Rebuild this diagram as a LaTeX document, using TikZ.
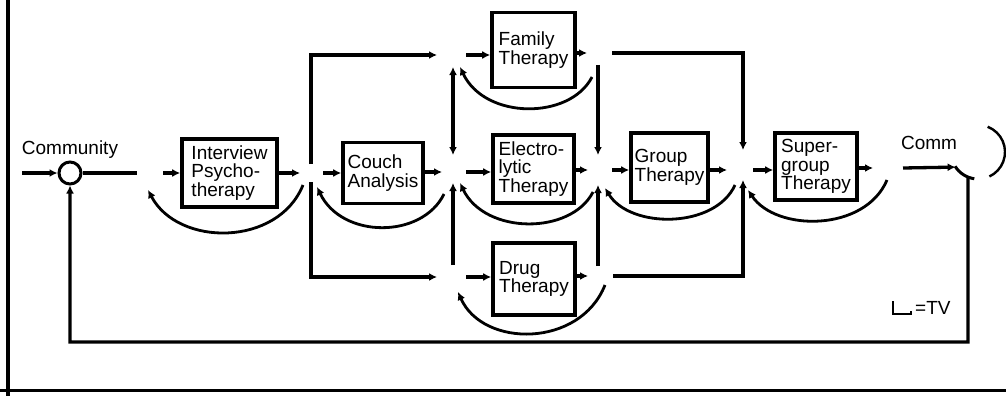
\documentclass[tikz,border=0pt]{standalone}
\usepackage{fontspec}
\setmainfont{Liberation Sans}
\usetikzlibrary{arrows.meta}

\begin{document}
\begin{tikzpicture}[x=1pt,y=1pt]
\tikzstyle{every node}+=[inner sep=0pt]
\tikzstyle{box}=[draw, line width=3.6pt, align=left, inner sep=3pt, font=\fontsize{19}{18.5}\selectfont]
\tikzstyle{lbl}=[font=\fontsize{19}{18.5}\selectfont]
\tikzstyle{wire}=[line width=3.3pt]
\tikzstyle{tip}=[-{Latex[length=8pt,width=8pt]}]
\tikzstyle{fb}=[line width=2.8pt, -{Latex[length=8pt,width=8pt]}]
\useasboundingbox (0,0) rectangle (1006,-396);
% edges of the sheet
\draw [line width=4pt] (8,0) -- (8,-396);
\draw [line width=3pt] (0,-390) -- (1006,-390);
% summing points
\node [draw, circle, line width=3pt, minimum size=22pt] (cin) at (70,-173) {};
\node [lbl] (lblin) at (70,-150) {Community};
\node [circle, minimum size=54pt, outer sep=0pt] (cout) at (978,-152) {};
\node [lbl] (lblout) at (929,-143) {Comm};
\coordinate (src) at (22,-173);
\coordinate (fbk) at (968,-342);
% therapy boxes
\node [box, minimum width=95pt, minimum height=68pt] (interview) at (229.5,-173) {Interview\\Psycho-\\therapy};
\node [box, minimum width=80pt, minimum height=61pt] (couch) at (383,-173) {Couch\\Analysis};
\node [box, minimum width=83pt, minimum height=75pt] (family) at (533.5,-50) {Family\\Therapy};
\node [box, minimum width=81pt, minimum height=68pt] (electro) at (533.5,-169) {Electro-\\lytic\\Therapy};
\node [box, minimum width=82pt, minimum height=72pt] (drug) at (534,-279) {Drug\\Therapy};
\node [box, minimum width=77pt, minimum height=69pt] (group) at (669.5,-167.5) {Group\\Therapy};
\node [box, minimum width=82pt, minimum height=67pt] (super) at (816,-166.5) {Super-\\group\\Therapy};
% gaps (=TV)
\coordinate (j0) at (150,-173);
\coordinate (j1) at (311,-173);
\coordinate (j2) at (453,-172);
\coordinate (j3) at (598,-170);
\coordinate (j4) at (743,-170);
\coordinate (j5) at (888,-168);
\coordinate (fi) at (453,-55);
\coordinate (fo) at (598,-53);
\coordinate (di) at (453,-277);
\coordinate (do) at (598,-276);
% main line
\draw [wire, tip] (src) -- (cin.west);
\draw [wire] (cin.east) -- ([xshift=-13]j0);
\draw [wire, tip] ([xshift=13]j0) -- (j0 -| interview.west);
\draw [wire, tip] (j1 -| interview.east) -- ([xshift=-11]j1);
\draw [wire, tip] ([xshift=12]j1) -- (j1 -| couch.west);
\draw [wire, tip] (j2 -| couch.east) -- ([xshift=-11]j2);
\draw [wire, tip] ([xshift=13]j2) -- (j2 -| electro.west);
\draw [wire, tip] (j3 -| electro.east) -- ([xshift=-10]j3);
\draw [wire, tip] ([xshift=14]j3) -- (j3 -| group.west);
\draw [wire, tip] (j4 -| group.east) -- ([xshift=-16]j4);
\draw [wire, tip] ([xshift=10]j4) -- (j4 -| super.west);
\draw [wire, tip] (j5 -| super.east) -- ([xshift=-15]j5);
\draw [wire, tip] ([xshift=15]j5) -- (cout.214);
% branches
\draw [wire, tip] ([yshift=9]j1) |- ([xshift=-16]fi);
\draw [wire, tip] ([yshift=-9]j1) |- ([xshift=-16]di);
\draw [wire, tip] ([xshift=13]fi) -- (fi -| family.west);
\draw [wire, tip] (fo -| family.east) -- ([xshift=-11]fo);
\draw [wire, tip] ([xshift=14]fo) -| ([yshift=20]j4);
\draw [wire, tip] ([xshift=13]di) -- (di -| drug.west);
\draw [wire, tip] (do -| drug.east) -- ([xshift=-10]do);
\draw [wire, tip] ([xshift=15]do) -| ([yshift=-10]j4);
\draw [wire, {Latex[length=8pt,width=8pt]}-{Latex[length=8pt,width=8pt]}] ([yshift=-12]fi) -- ([yshift=17]j2);
\draw [wire, tip] ([yshift=12]di) -- ([yshift=-11]j2);
\draw [wire, tip] ([yshift=-12]fo) -- ([yshift=15]j3);
\draw [wire, tip] ([yshift=10]do) -- ([yshift=-15]j3);
% feedback loops
\draw [fb] ([shift={(-8,-12)}]j1) .. controls +(-25,-62) and +(30,-57) .. ([shift={(-2,-17)}]j0);
\draw [fb] ([shift={(-9,-22)}]j2) .. controls +(-22,-45) and +(25,-52) .. ([shift={(6,-14)}]j1);
\draw [fb] ([shift={(-6,-24)}]fo) .. controls +(-22,-43) and +(25,-53) .. ([shift={(7,-12)}]fi);
\draw [fb] ([shift={(-5,-22)}]j3) .. controls +(-22,-43) and +(25,-52) .. ([shift={(7,-11)}]j2);
\draw [fb] ([shift={(7,-9)}]do) .. controls +(-25,-63) and +(25,-56) .. ([shift={(5,-15)}]di);
\draw [fb] ([shift={(-8,-15)}]j4) .. controls +(-20,-44) and +(25,-41) .. ([shift={(7,-18)}]j3);
\draw [fb] ([shift={(-1,-12)}]j5) .. controls +(-22,-52) and +(28,-42) .. ([shift={(5,-20)}]j4);
% back to the community
\draw [wire, tip] (cout.248) -- (fbk) -| (cin.south);
\draw [line width=2.4pt] (cout.69) arc (69:-65:27);
\draw [line width=3pt] (cout.212) arc (212:262:27);
% legend
\draw [line width=1.8pt] (893,-301) -- (893,-314) -- (911,-314) -- (911,-311);
\node [lbl, anchor=west] (tv) at (915,-308) {=TV};
\end{tikzpicture}
\end{document}
